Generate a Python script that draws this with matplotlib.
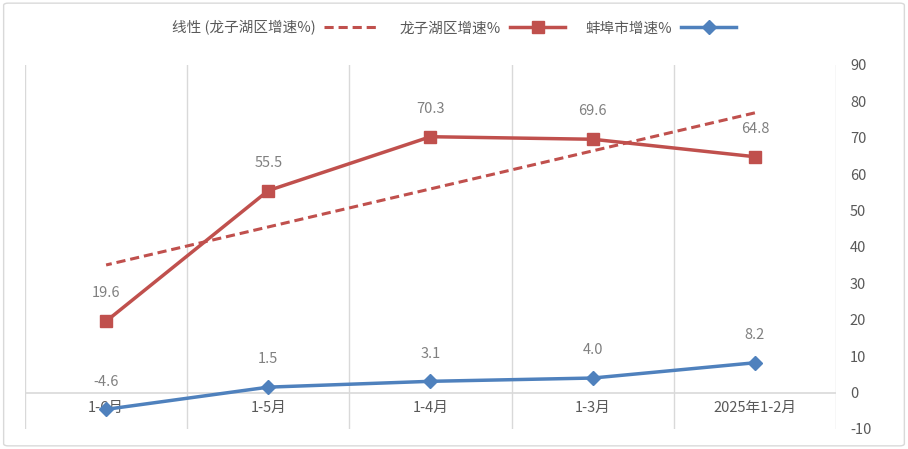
import matplotlib
matplotlib.use("Agg")
import matplotlib.pyplot as plt
from matplotlib.patches import FancyBboxPatch
import numpy as np

plt.rcParams['font.family'] = ['Noto Sans CJK SC', 'DejaVu Sans']

categories = ["2025年1-2月", "1-3月", "1-4月", "1-5月", "1-6月"]
bengbu = [8.2, 4.0, 3.1, 1.5, -4.6]
longzihu = [64.8, 69.6, 70.3, 55.5, 19.6]
yticks = [-10, 0, 10, 20, 30, 40, 50, 60, 70, 80, 90]

blue = "#4F81BD"
red = "#C0504D"
grid = "#D9D9D9"
label_c = "#808080"
tick_c = "#595959"

fig = plt.figure(figsize=(9.08, 4.49), dpi=100)
fig.patches.append(FancyBboxPatch((0.004, 0.007), 0.992, 0.986, boxstyle="round,pad=0,rounding_size=0.005",
                                  transform=fig.transFigure, fill=False, edgecolor="#D9D9D9", lw=1))
ax = fig.add_axes([25/908, 1-429/449, (836-25)/908, (429-65)/449])

x = np.arange(len(categories))
ax.set_xlim(len(categories)-0.5, -0.5)
ax.set_ylim(-10, 90)

for b in np.arange(-0.5, len(categories), 1.0):
    ax.axvline(b, color=grid, lw=1, zorder=0)
ax.axhline(0, color=grid, lw=1.2, zorder=0)

coef = np.polyfit(x, longzihu, 1)
trend = np.polyval(coef, x)

l_trend, = ax.plot(x, trend, color=red, lw=2.2, ls=(0, (3, 1.6)), zorder=2)
l_red, = ax.plot(x, longzihu, color=red, lw=2.5, marker='s', ms=9, zorder=3)
l_blue, = ax.plot(x, bengbu, color=blue, lw=2.5, marker='D', ms=7, zorder=3)

for xi, v in zip(x, longzihu):
    ax.annotate(f"{v:.1f}", (xi, v), xytext=(0, 20), textcoords='offset points',
                ha='center', va='center', fontsize=10.5, color=label_c)
for xi, v in zip(x, bengbu):
    ax.annotate(f"{v:.1f}", (xi, v), xytext=(0, 20), textcoords='offset points',
                ha='center', va='center', fontsize=10.5, color=label_c)

for s in ax.spines.values():
    s.set_visible(False)
ax.spines['bottom'].set_position(('data', 0))
ax.set_xticks(x)
ax.set_xticklabels(categories, fontsize=10.5, color=tick_c)
ax.tick_params(axis='x', length=0, pad=6)
ax.yaxis.tick_right()
ax.set_yticks(yticks)
ax.set_yticklabels([str(t) for t in yticks], fontsize=10.5, color=tick_c)
ax.tick_params(axis='y', length=0, pad=10)
for lab in ax.get_yticklabels():
    lab.set_ha('left')

leg = fig.legend([l_trend, l_red, l_blue],
                 ["线性 (龙子湖区增速%)", "龙子湖区增速%", "蚌埠市增速%"],
                 loc='center', bbox_to_anchor=(0.5, 1-28/449), ncol=3, frameon=False,
                 markerfirst=False, fontsize=10.5, handlelength=3.8, columnspacing=1.4,
                 handletextpad=0.6)
for t in leg.get_texts():
    t.set_color(tick_c)

fig.savefig("out.png", dpi=100)
